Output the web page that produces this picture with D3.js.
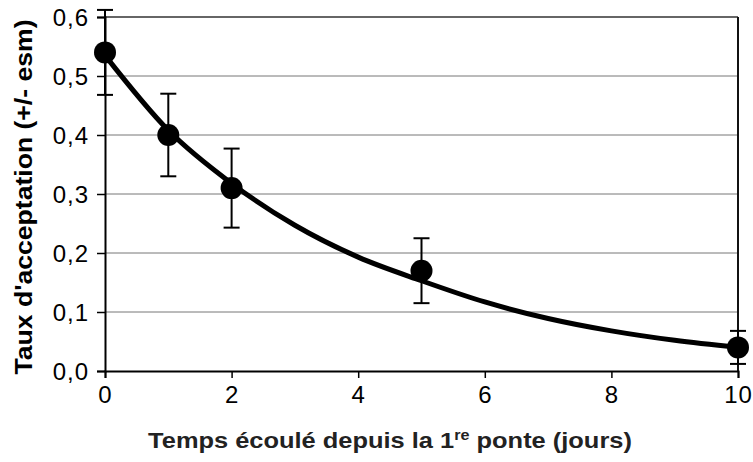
<!DOCTYPE html>
<html>
<head>
<meta charset="utf-8">
<script src="https://cdn.jsdelivr.net/npm/d3@7"></script>
<style>
  body { margin: 0; background: #fff; }
  svg { display: block; }
  text { font-family: "Liberation Sans", Arial, sans-serif; fill: #000; }
</style>
</head>
<body>
<div id="chart"></div>
<script>
// measured points (jours, taux) with standard error
var days = [0, 1, 2, 5, 10];
var rates = [0.54, 0.40, 0.31, 0.17, 0.04];
var errors = [0.072, 0.07, 0.067, 0.055, 0.028];

// fitted curve
var curveX = [0, 1, 2, 3, 4, 5, 6, 7, 8, 9, 10];
var curveY = [0.535, 0.408, 0.318, 0.247, 0.193, 0.153, 0.117, 0.089, 0.068, 0.052, 0.04];

var xTicks = [0, 2, 4, 6, 8, 10];
var yTicks = [0, 0.1, 0.2, 0.3, 0.4, 0.5, 0.6];

var W = 753, H = 462;
var margin = { top: 17, right: 15, bottom: 91, left: 105 };
var width = W - margin.left - margin.right;
var height = H - margin.top - margin.bottom;

var x = d3.scaleLinear().domain([0, 10]).range([0, width]);
var y = d3.scaleLinear().domain([0, 0.6]).range([height, 0]);
var fmt = d3.format(".1f");

var svg = d3.select("#chart").append("svg")
  .attr("width", W)
  .attr("height", H);

var g = svg.append("g")
  .attr("transform", `translate(${margin.left},${margin.top})`);

// gridlines
g.selectAll(".grid")
  .data(yTicks.filter((d) => d > 0))
  .enter()
  .append("line")
  .attr("class", "grid")
  .attr("x1", 0)
  .attr("x2", width)
  .attr("y1", (d) => y(d))
  .attr("y2", (d) => y(d))
  .attr("stroke", (d) => (d === 0.6 ? "#333" : "#777"))
  .attr("stroke-width", (d) => (d === 0.6 ? 1.5 : 1));

// right border
g.append("line")
  .attr("x1", width).attr("x2", width)
  .attr("y1", 0).attr("y2", height)
  .attr("stroke", "#111")
  .attr("stroke-width", 2);

// y axis
var yAxis = g.append("g")
  .call(d3.axisLeft(y).tickValues(yTicks).tickSize(8).tickPadding(8)
    .tickFormat((d) => fmt(d).replace(".", ",")));
yAxis.select(".domain").attr("stroke", "#000").attr("stroke-width", 2);
yAxis.selectAll(".tick line").attr("stroke", "#000").attr("stroke-width", 1.5);
yAxis.selectAll(".tick text")
  .style("font-size", "24px")
  .style("letter-spacing", "1px")
  .attr("dy", "0.36em");

// x axis
var xAxis = g.append("g")
  .attr("transform", `translate(0,${height})`)
  .call(d3.axisBottom(x).tickValues(xTicks).tickSize(7).tickPadding(8));
xAxis.select(".domain").attr("stroke", "#000").attr("stroke-width", 2);
xAxis.selectAll(".tick line").attr("stroke", "#000").attr("stroke-width", 1.5);
xAxis.selectAll(".tick text")
  .style("font-size", "24px")
  .style("letter-spacing", "1px");

// fitted curve
var line = d3.line()
  .x((d, i) => x(curveX[i]))
  .y((d) => y(d))
  .curve(d3.curveMonotoneX);
g.append("path")
  .datum(curveY)
  .attr("d", line)
  .attr("fill", "none")
  .attr("stroke", "#000")
  .attr("stroke-width", 5);

// error bars
var eb = g.selectAll(".err")
  .data(days)
  .enter()
  .append("g")
  .attr("class", "err")
  .attr("stroke", "#000")
  .attr("stroke-width", 2);
eb.append("line")
  .attr("x1", (d) => x(d)).attr("x2", (d) => x(d))
  .attr("y1", (d, i) => y(rates[i] + errors[i]))
  .attr("y2", (d, i) => y(rates[i] - errors[i]));
eb.append("line")
  .attr("x1", (d) => x(d) - 8).attr("x2", (d) => x(d) + 8)
  .attr("y1", (d, i) => y(rates[i] + errors[i]))
  .attr("y2", (d, i) => y(rates[i] + errors[i]));
eb.append("line")
  .attr("x1", (d) => x(d) - 8).attr("x2", (d) => x(d) + 8)
  .attr("y1", (d, i) => y(rates[i] - errors[i]))
  .attr("y2", (d, i) => y(rates[i] - errors[i]));

// points
g.selectAll(".pt")
  .data(days)
  .enter()
  .append("circle")
  .attr("class", "pt")
  .attr("cx", (d) => x(d))
  .attr("cy", (d, i) => y(rates[i]))
  .attr("r", 11)
  .attr("fill", "#000");

// axis titles
var xt = svg.append("text")
  .attr("x", 0)
  .attr("y", 0)
  .attr("text-anchor", "middle")
  .style("font-size", "22px")
  .style("font-weight", "bold")
  .style("fill", "#222");
xt.append("tspan").text("Temps écoulé depuis la 1");
xt.append("tspan").attr("dy", -8).style("font-size", "14px").text("re");
xt.append("tspan").attr("dy", 8).text(" ponte (jours)");
// stretch to the width of the original title
var xw = xt.node().getBBox().width;
xt.attr("transform", `translate(390,448) scale(${484 / xw},1)`);

svg.append("text")
  .attr("transform", "translate(32,197) rotate(-90)")
  .attr("text-anchor", "middle")
  .attr("textLength", 355)
  .attr("lengthAdjust", "spacingAndGlyphs")
  .style("font-size", "24px")
  .style("font-weight", "bold")
  .text("Taux d'acceptation (+/- esm)");
</script>
</body>
</html>
